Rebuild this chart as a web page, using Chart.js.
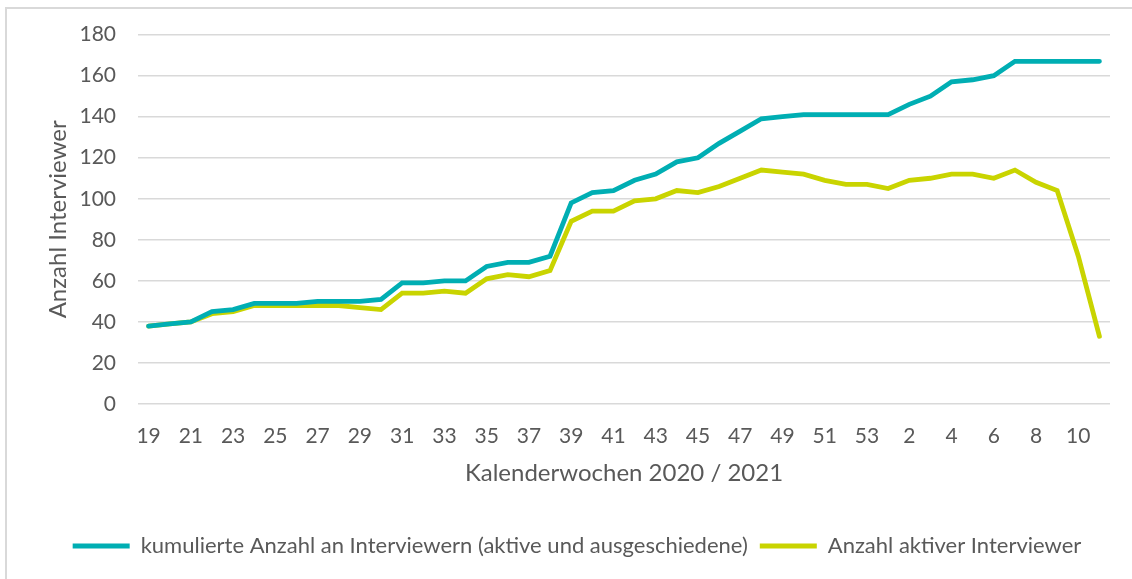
<!DOCTYPE html>
<html lang="de">
<head>
    <meta charset="UTF-8">
    <title>Interviewer je Kalenderwoche</title>
    <script src="https://cdn.jsdelivr.net/npm/chart.js"></script>
    <style>
        body {
            margin: 0;
            background: #fff;
        }
        #chartBox {
            position: relative;
            width: 1132px;
            height: 579px;
        }
    </style>
</head>
<body>
    <div id="chartBox">
        <canvas id="interviewerChart" width="1132" height="579"></canvas>
    </div>

    <script>
        // Kalenderwochen 19-53 (2020) und 1-11 (2021)
        const weeks = [
            '19', '20', '21', '22', '23', '24', '25', '26', '27', '28', '29', '30',
            '31', '32', '33', '34', '35', '36', '37', '38', '39', '40', '41', '42',
            '43', '44', '45', '46', '47', '48', '49', '50', '51', '52', '53',
            '1', '2', '3', '4', '5', '6', '7', '8', '9', '10', '11'
        ];

        const kumuliert = [
            38, 39, 40, 45, 46, 49, 49, 49, 50, 50, 50, 51,
            59, 59, 60, 60, 67, 69, 69, 72, 98, 103, 104, 109,
            112, 118, 120, 127, 133, 139, 140, 141, 141, 141, 141,
            141, 146, 150, 157, 158, 160, 167, 167, 167, 167, 167
        ];

        const aktiv = [
            38, 39, 40, 44, 45, 48, 48, 48, 48, 48, 47, 46,
            54, 54, 55, 54, 61, 63, 62, 65, 89, 94, 94, 99,
            100, 104, 103, 106, 110, 114, 113, 112, 109, 107, 107,
            105, 109, 110, 112, 112, 110, 114, 108, 104, 72, 33
        ];

        const seriesNames = [
            'kumulierte Anzahl an Interviewern (aktive und ausgeschiedene)',
            'Anzahl aktiver Interviewer'
        ];

        const TEAL = '#00aeb3';
        const YELLOW = '#c9d400';
        const TEXT = '#595959';
        const FONT = 'Lato, "Open Sans", sans-serif';

        // light frame like the spreadsheet chart border
        const framePlugin = {
            id: 'frame',
            beforeDraw(chart) {
                const c = chart.ctx;
                c.save();
                c.strokeStyle = '#d9d9d9';
                c.lineWidth = 2;
                c.beginPath();
                c.moveTo(6, chart.height);
                c.lineTo(6, 8);
                c.lineTo(chart.width, 8);
                c.stroke();
                c.restore();
            }
        };

        const ctx = document.getElementById('interviewerChart').getContext('2d');
        const chart = new Chart(ctx, {
            type: 'line',
            data: {
                labels: weeks,
                datasets: [{
                    label: seriesNames[0],
                    data: kumuliert,
                    borderColor: TEAL,
                    backgroundColor: TEAL,
                    borderWidth: 4.8,
                    pointRadius: 0,
                    tension: 0,
                    borderCapStyle: 'round'
                }, {
                    label: seriesNames[1],
                    data: aktiv,
                    borderColor: YELLOW,
                    backgroundColor: YELLOW,
                    borderWidth: 4.8,
                    pointRadius: 0,
                    tension: 0,
                    borderCapStyle: 'round'
                }]
            },
            options: {
                responsive: false,
                animation: false,
                layout: {
                    padding: { left: 44, right: 22, top: 34, bottom: 12 }
                },
                plugins: {
                    tooltip: { enabled: false },
                    legend: {
                        position: 'bottom',
                        labels: {
                            color: TEXT,
                            font: { family: FONT, size: 22 },
                            boxWidth: 57,
                            boxHeight: 5,
                            padding: 12,
                            generateLabels(ch) {
                                return Chart.defaults.plugins.legend.labels.generateLabels(ch).map(function (item) {
                                    item.lineWidth = 0;
                                    return item;
                                });
                            }
                        }
                    }
                },
                scales: {
                    x: {
                        offset: true,
                        grid: { display: false, drawTicks: false },
                        border: { display: false },
                        afterFit: function (scale) { scale.height = 119; },
                        ticks: {
                            color: TEXT,
                            font: { family: FONT, size: 21 },
                            autoSkip: false,
                            maxRotation: 0,
                            padding: 20,
                            callback: function (value, index) {
                                return index % 2 === 0 ? weeks[index] : '';
                            }
                        },
                        title: {
                            display: true,
                            text: 'Kalenderwochen 2020 / 2021',
                            color: TEXT,
                            font: { family: FONT, size: 24 },
                            padding: { top: 9, bottom: 35 }
                        }
                    },
                    y: {
                        min: 0,
                        max: 180,
                        grid: { color: '#d9d9d9', lineWidth: 1.5, drawTicks: false },
                        border: { display: false },
                        afterFit: function (scale) { scale.width = 94; },
                        ticks: {
                            stepSize: 20,
                            color: TEXT,
                            font: { family: FONT, size: 21 },
                            padding: 22
                        },
                        title: {
                            display: true,
                            text: 'Anzahl Interviewer',
                            color: TEXT,
                            font: { family: FONT, size: 24 },
                            padding: { top: 0, bottom: 8 }
                        }
                    }
                }
            },
            plugins: [framePlugin]
        });
    </script>
</body>
</html>
